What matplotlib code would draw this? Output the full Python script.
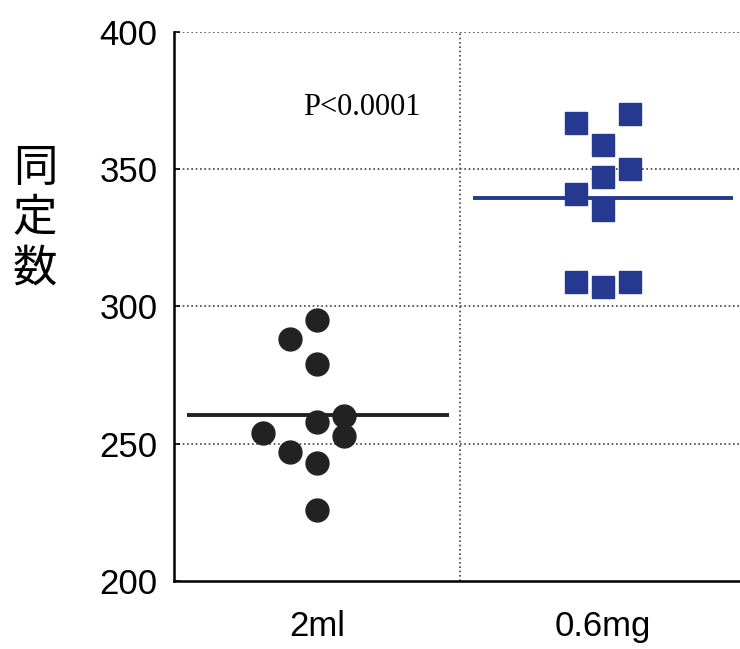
import matplotlib.pyplot as plt
import numpy as np

# 値は図から読み取った推定値
groups = ["2ml", "0.6mg"]
vals_2ml = [295, 288, 279, 260, 258, 254, 253, 247, 243, 226]
slot_2ml = [0, -1, 0, 1, 0, -2, 1, -1, 0, 0]       # 点の横ずらし（列番号）
vals_06mg = [370, 367, 359, 350, 347, 341, 335, 309, 307, 309]
slot_06mg = [1, -1, 0, 1, 0, -1, 0, -1, 0, 1]
p_text = "P<0.0001"
yticks = [200, 250, 300, 350, 400]

fig = plt.figure(figsize=(7.4, 6.49), dpi=100)
ax = fig.add_axes([174 / 740, 0.1048, 572 / 740, 0.8459])

step = 0.095
blue = "#24398f"
dark = "#222222"

x1 = 0 + np.array(slot_2ml) * step
x2 = 1 + np.array(slot_06mg) * step
ax.plot(x1, vals_2ml, "o", ms=16.5, color=dark, mec=dark, zorder=3)
ax.plot(x2, vals_06mg, "s", ms=16, color=blue, mec=blue, zorder=3)

# 平均値の横線
ax.hlines(np.mean(vals_2ml), -0.455, 0.46, color=dark, lw=2.8, zorder=2)
ax.hlines(np.mean(vals_06mg), 0.545, 1.455, color=blue, lw=2.8, zorder=2)

ax.set_xlim(-0.5, 1.5)
ax.set_ylim(200, 400)
ax.set_yticks(yticks)
ax.set_xticks([0, 1])
ax.set_xticklabels(groups)

# 点線のグリッド
for y in yticks[1:]:
    ax.axhline(y, color="#444444", lw=1.2, ls=(0, (1, 1.6)), zorder=1)
ax.axvline(0.5, color="#444444", lw=1.2, ls=(0, (1, 1.6)), zorder=1)

for s in ["top", "right"]:
    ax.spines[s].set_visible(False)
for s in ["left", "bottom"]:
    ax.spines[s].set_linewidth(1.8)

ax.tick_params(axis="y", direction="in", length=4, width=1.2, pad=12,
               labelsize=25, labelfontfamily="Liberation Sans")
ax.tick_params(axis="x", length=0, pad=21, labelsize=25, labelfontfamily="Liberation Sans")

ax.text(0.157, 372.5, p_text, fontsize=22, family="Liberation Serif", ha="center", va="center")

fig.text(35 / 740, 1 - 218 / 649, "同\n定\n数", fontsize=32, family="Noto Sans CJK JP",
         ha="center", va="center", linespacing=1.12)

fig.savefig("out.png", dpi=100)
